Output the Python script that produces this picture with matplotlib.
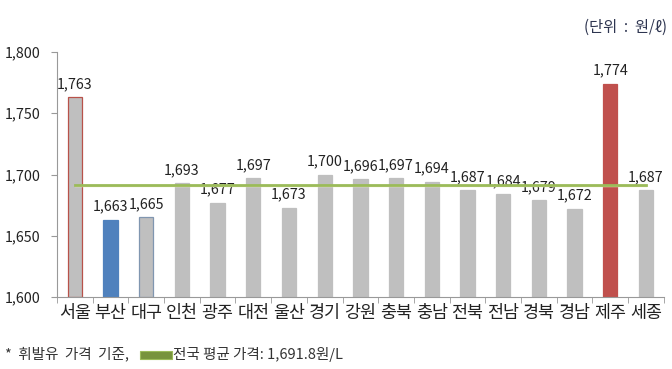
import matplotlib
matplotlib.use("Agg")
import matplotlib.pyplot as plt
from matplotlib.patches import Rectangle

plt.rcParams['font.family'] = ['Noto Sans CJK KR', 'DejaVu Sans']

regions = ['서울', '부산', '대구', '인천', '광주', '대전', '울산', '경기', '강원',
           '충북', '충남', '전북', '전남', '경북', '경남', '제주', '세종']
prices = [1763, 1663, 1665, 1693, 1677, 1697, 1673, 1700, 1696,
          1697, 1694, 1687, 1684, 1679, 1672, 1774, 1687]
national_avg = 1691.8
yticks = [1600, 1650, 1700, 1750, 1800]

gray = '#bfbfbf'
fills = [gray] * len(regions)
edges = [gray] * len(regions)
fills[1] = '#4f81bd'; edges[1] = '#4f81bd'
fills[15] = '#c0504d'; edges[15] = '#c0504d'
edges[0] = '#b8524a'
edges[2] = '#8096b0'

fig = plt.figure(figsize=(6.72, 3.69), dpi=100)
ax = fig.add_axes([0.0848, 0.195, 0.903, 0.664])

x = list(range(len(regions)))
ax.bar(x, [p - 1600 for p in prices], bottom=1600, width=0.4,
       color=fills, edgecolor=edges, linewidth=0.9, zorder=2)

for xi, p in zip(x, prices):
    ax.annotate(f'{p:,}', (xi, p), xytext=(0, 4.5), textcoords='offset points',
                ha='center', va='bottom', fontsize=10.3, color='#222222')

ax.plot([0, len(regions) - 1], [national_avg - 1.0] * 2, color='#eef0c4', lw=1.0, zorder=3)
ax.plot([0, len(regions) - 1], [national_avg, national_avg], color='#9bbb59', lw=2.0, zorder=4)

ax.set_xlim(-0.5, len(regions) - 0.5)
ax.set_ylim(1600, 1800)
ax.set_yticks(yticks)
ax.set_yticklabels([f'{v:,}' for v in yticks], fontsize=10.3, color='#222222')
ax.set_xticks(x)
ax.set_xticklabels(regions, fontsize=12.5, color='#222222')
ax.tick_params(axis='x', which='major', length=0, pad=5)
ax.set_xticks([i - 0.5 for i in range(len(regions) + 1)], minor=True)
ax.tick_params(axis='x', which='minor', length=4, color='#999999', direction='out')
ax.tick_params(axis='y', length=4, color='#999999', pad=8)

for s in ['top', 'right']:
    ax.spines[s].set_visible(False)
ax.spines['left'].set_color('#999999')
ax.spines['bottom'].set_color('#999999')

fig.text(0.993, 0.925, '(단위  :  원/ℓ)', ha='right', va='center', fontsize=11, color='#2e3550')

fig.text(0.008, 0.04, '*  휘발유  가격  기준,', ha='left', va='center', fontsize=10.5, color='#333333')
fig.patches.append(Rectangle((0.209, 0.028), 0.047, 0.022, transform=fig.transFigure,
                             facecolor='#77933c', edgecolor='#9bbb59', linewidth=0.8))
fig.text(0.257, 0.04, '전국 평균 가격: 1,691.8원/L', ha='left', va='center', fontsize=10.5, color='#333333')

fig.savefig('out.png', dpi=100, facecolor='white')
